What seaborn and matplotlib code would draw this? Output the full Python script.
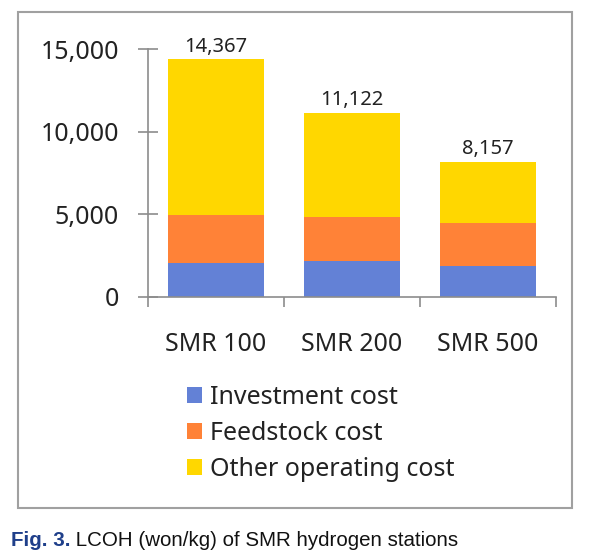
import matplotlib
matplotlib.use("Agg")
import matplotlib.pyplot as plt
import matplotlib.patches as mpatches
import numpy as np
import pandas as pd
import seaborn as sns

# ---- data ----
categories = ["SMR 100", "SMR 200", "SMR 500"]
investment = [2050, 2170, 1850]
feedstock = [2905, 2684, 2602]
other = [9412, 6268, 3705]
series_names = ["Investment cost", "Feedstock cost", "Other operating cost"]
yticks = [0, 5000, 10000, 15000]

colors = ["#6381D6", "#FF8237", "#FFD700"]

sns.set_theme(style="white")
plt.rcParams["font.family"] = ["Noto Sans", "DejaVu Sans"]

fig = plt.figure(figsize=(5.91, 5.55), dpi=100)
ax = fig.add_axes([148 / 591, 1 - 297 / 555, 408 / 591, 248 / 555])

df = pd.DataFrame({"cat": categories, "inv": investment, "feed": feedstock, "oth": other})
df["lvl1"] = df["inv"]
df["lvl2"] = df["inv"] + df["feed"]
df["lvl3"] = df["inv"] + df["feed"] + df["oth"]

# stacked look by overlaying cumulative levels (top-most drawn first)
for col, c in zip(["lvl3", "lvl2", "lvl1"], colors[::-1]):
    sns.barplot(data=df, x="cat", y=col, color=c, width=0.7, ax=ax,
                linewidth=0, edgecolor="none", saturation=1, errorbar=None)

top_container = ax.containers[0]
ax.bar_label(top_container, labels=[f"{v:,.0f}" for v in df["lvl3"]],
             padding=2, fontsize=14.5, color="#222222")

ax.set_xlim(-0.5, 2.5)
ax.set_ylim(0, 15000)
ax.set_yticks(yticks)
ax.set_yticklabels([f"{v:,}" for v in yticks])
ax.set_xlabel("")
ax.set_ylabel("")

for s in ["top", "right"]:
    ax.spines[s].set_visible(False)
axis_col = "#8C8C8C"
for s in ["left", "bottom"]:
    ax.spines[s].set_color(axis_col)
    ax.spines[s].set_linewidth(1.2)

ax.tick_params(axis="y", direction="inout", length=14, width=1.2, color=axis_col,
               labelsize=18, labelcolor="#222222", pad=14, left=True)
ax.tick_params(axis="x", which="major", length=0, labelsize=18, labelcolor="#222222", pad=25.5)
ax.set_xticks([-0.5, 0.5, 1.5, 2.5], minor=True)
ax.tick_params(axis="x", which="minor", direction="out", length=7, width=1.2,
               color=axis_col, bottom=True)
ax.grid(False)

handles = [mpatches.Patch(facecolor=c, edgecolor="none") for c in colors]
ax.legend(handles, series_names, loc="upper left",
          bbox_to_anchor=(187 / 591, 1 - 385 / 555), bbox_transform=fig.transFigure,
          frameon=False, fontsize=18, handlelength=0.6, handleheight=0.6,
          handletextpad=0.32, labelspacing=0.44, borderpad=0, borderaxespad=0,
          labelcolor="#222222")

# outer frame
frame = mpatches.Rectangle((18 / 591, 1 - 508 / 555), (572 - 18) / 591, (508 - 12) / 555,
                           transform=fig.transFigure, fill=False,
                           edgecolor="#A0A0A0", linewidth=1.5)
fig.patches.append(frame)

# caption
cap_font = ["Liberation Sans", "DejaVu Sans"]
t1 = fig.text(11 / 591, 1 - 541 / 555, "Fig. 3.", fontsize=14.8, fontweight="bold",
              color="#1F3F8A", family=cap_font, va="center")
ax.annotate(" LCOH (won/kg) of SMR hydrogen stations", xy=(1, 0.5), xycoords=t1,
            fontsize=14.8, color="#111111", family=cap_font,
            va="center", ha="left", annotation_clip=False)

fig.savefig("out.png", dpi=100)
